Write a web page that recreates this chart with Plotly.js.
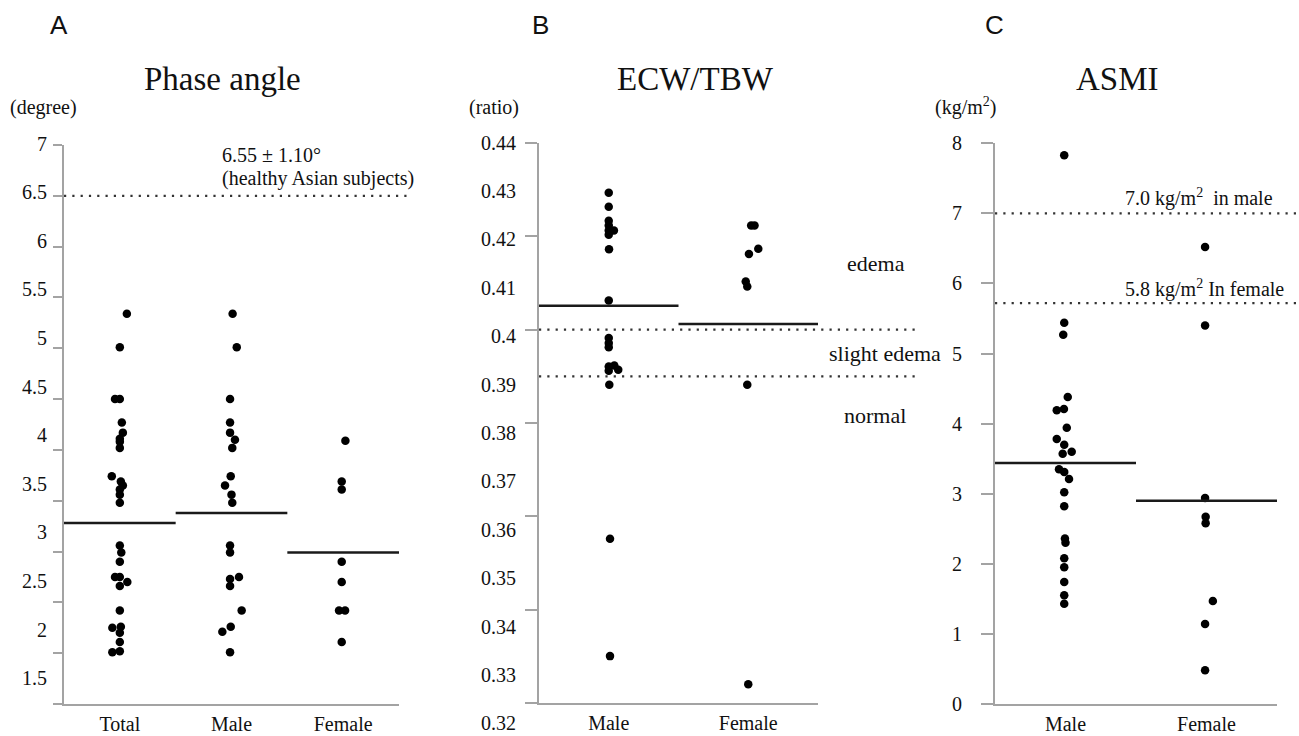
<!DOCTYPE html>
<html>
<head>
<meta charset="utf-8">
<script src="https://cdn.plot.ly/plotly-3.0.1.min.js"></script>
<style>html,body{margin:0;padding:0;background:#fff;}#chart{width:1299px;height:736px;}</style>
</head>
<body>
<div id="chart"></div>
<script>
// ---------- DATA ----------
// Panel A: Phase angle (degree)
const catsA = ['Total', 'Male', 'Female'];
const paTotal = [5.34, 5.01, 4.50, 4.50, 4.27, 4.17, 4.11, 4.08, 4.02, 3.74, 3.69, 3.65, 3.61, 3.56, 3.48,
                 3.06, 2.99, 2.90, 2.75, 2.75, 2.70, 2.66, 2.42, 2.25, 2.26, 2.20, 2.11, 2.01, 2.02];
const paTotalJit = [0.063, 0, -0.043, 0, 0.018, 0.027, 0, 0, 0, -0.072, 0.009, 0.027, 0, 0, 0,
                    0, 0.013, 0, -0.043, 0, 0.067, 0, 0, -0.067, 0.009, 0, 0, -0.067, 0];
const paMale = [5.34, 5.01, 4.50, 4.27, 4.17, 4.10, 4.02, 3.74, 3.65, 3.56, 3.48,
                3.06, 2.99, 2.73, 2.75, 2.66, 2.42, 2.21, 2.26, 2.01];
const paMaleJit = [0.01, 0.047, -0.013, -0.013, -0.013, 0.031, 0.007, -0.007, -0.058, 0, 0.007,
                   -0.013, -0.013, -0.013, 0.067, -0.013, 0.091, -0.082, -0.007, -0.013];
const paFemale = [4.09, 3.69, 3.61, 2.90, 2.70, 2.42, 2.42, 2.11];
const paFemaleJit = [0.02, -0.013, -0.013, -0.013, -0.013, -0.037, 0.017, -0.013];
const paMeans = [3.28, 3.38, 2.99];
const paReference = 6.5;
const paTickLabels = [7, 6.5, 6, 5.5, 5, 4.5, 4, 3.5, 3, 2.5, 2, 1.5];

// Panel B: ECW/TBW (ratio)
const catsB = ['Male', 'Female'];
const ecwMale = [0.4293, 0.4263, 0.4233, 0.4223, 0.4212, 0.4212, 0.4203, 0.4172, 0.4062,
                 0.3982, 0.3971, 0.3962, 0.3921, 0.3923, 0.3914, 0.3912, 0.3882, 0.3552, 0.3301];
const ecwMaleJit = [0, 0, 0, 0, 0.037, 0, 0, 0.002, 0, 0, 0, 0, 0, 0.04, 0.068, 0, 0.004, 0.009, 0.009];
const ecwFemale = [0.4223, 0.4223, 0.4173, 0.4162, 0.4103, 0.4092, 0.3882, 0.3241];
const ecwFemaleJit = [0.021, 0.045, 0.072, 0.005, -0.018, -0.007, -0.007, 0];
const ecwMeans = [0.4051, 0.4012];
const ecwCutoffs = [0.400, 0.390];
const ecwTickLabels = [0.44, 0.43, 0.42, 0.41, 0.40, 0.39, 0.38, 0.37, 0.36, 0.35, 0.34, 0.33, 0.32];

// Panel C: ASMI (kg/m2)
const catsC = ['Male', 'Female'];
const asmiMale = [7.83, 5.44, 5.27, 4.38, 4.21, 4.19, 3.94, 3.78, 3.70, 3.60, 3.57, 3.35, 3.31, 3.21,
                  3.02, 2.82, 2.36, 2.30, 2.08, 1.95, 1.74, 1.55, 1.43];
const asmiMaleJit = [-0.009, -0.009, -0.016, 0.016, -0.011, -0.062, 0.009, -0.062, -0.009, 0.044, -0.02,
                     -0.046, -0.009, 0.025, -0.009, -0.009, -0.004, 0, -0.009, -0.009, -0.009, -0.009, -0.009];
const asmiFemale = [6.52, 5.40, 2.94, 2.67, 2.58, 1.47, 1.14, 0.48];
const asmiFemaleJit = [-0.01, -0.01, -0.01, -0.006, -0.006, 0.045, -0.01, -0.01];
const asmiMeans = [3.44, 2.90];
const asmiCutoffs = [7.0, 5.72];

// ---------- STYLE ----------
const W = 1299, H = 736;
const fx = p => p / W, fy = p => 1 - p / H;
const SERIF = 'Liberation Serif, Times New Roman, serif';
const SANS = 'Liberation Sans, Arial, sans-serif';
const AX = '#a3a3a3';
const INK = '#111111';

function dots(vals, jit, idx, xa, ya) {
  return {
    type: 'scatter', mode: 'markers', xaxis: xa, yaxis: ya,
    x: vals.map((v, i) => idx + jit[i]), y: vals,
    marker: {color: '#000', size: 8.5, line: {width: 0}},
    hoverinfo: 'skip', cliponaxis: false
  };
}
function meanLines(means, xa, ya) {
  return means.map((m, i) => ({
    type: 'scatter', mode: 'lines', xaxis: xa, yaxis: ya,
    x: [i - 0.5, i + 0.5], y: [m, m],
    line: {color: '#1a1a1a', width: 2.5}, hoverinfo: 'skip'
  }));
}

const traces = [
  dots(paTotal, paTotalJit, 0, 'x', 'y'),
  dots(paMale, paMaleJit, 1, 'x', 'y'),
  dots(paFemale, paFemaleJit, 2, 'x', 'y'),
  ...meanLines(paMeans, 'x', 'y'),
  dots(ecwMale, ecwMaleJit, 0, 'x2', 'y2'),
  dots(ecwFemale, ecwFemaleJit, 1, 'x2', 'y2'),
  ...meanLines(ecwMeans, 'x2', 'y2'),
  dots(asmiMale, asmiMaleJit, 0, 'x3', 'y3'),
  dots(asmiFemale, asmiFemaleJit, 1, 'x3', 'y3'),
  ...meanLines(asmiMeans, 'x3', 'y3'),
  // empty traces that carry the label-only axes
  {type: 'scatter', mode: 'markers', x: [], y: [], xaxis: 'x', yaxis: 'y4', hoverinfo: 'skip'},
  {type: 'scatter', mode: 'markers', x: [], y: [], xaxis: 'x2', yaxis: 'y5', hoverinfo: 'skip'}
];

const tf = {family: SERIF, size: 20, color: INK};
const baseX = {showline: true, linecolor: AX, linewidth: 2, ticks: '', showgrid: false, zeroline: false,
               tickfont: tf, fixedrange: true, ticklabelstandoff: 1};
const baseY = {showline: true, linecolor: AX, linewidth: 2, ticks: 'outside', tickwidth: 2, tickcolor: AX,
               showgrid: false, zeroline: false, fixedrange: true, tickfont: tf};
const labelY = {anchor: 'free', showline: false, ticks: '', showgrid: false, zeroline: false, fixedrange: true,
                tickmode: 'array', tickfont: tf};

const dotted = {color: '#333', width: 2.2, dash: '2.2px,6.1px'};
const shapes = [
  {type: 'line', xref: 'paper', yref: 'y', x0: fx(64), x1: fx(410), y0: paReference, y1: paReference, line: dotted},
  ...ecwCutoffs.map(c => ({type: 'line', xref: 'paper', yref: 'y2', x0: fx(539), x1: fx(917), y0: c, y1: c, line: dotted})),
  ...asmiCutoffs.map(c => ({type: 'line', xref: 'paper', yref: 'y3', x0: fx(995), x1: fx(1296), y0: c, y1: c, line: dotted}))
];

function txt(text, px, py, opts) {
  return Object.assign({text: text, xref: 'paper', yref: 'paper', x: fx(px), y: fy(py),
    xanchor: 'center', yanchor: 'middle', showarrow: false,
    font: {family: SERIF, size: 20, color: INK}}, opts || {});
}
const annotations = [
  txt('A', 59, 25, {font: {family: SANS, size: 26, color: INK}}),
  txt('B', 540, 25, {font: {family: SANS, size: 26, color: INK}}),
  txt('C', 994, 25, {font: {family: SANS, size: 26, color: INK}}),
  txt('Phase angle', 222, 79, {font: {family: SERIF, size: 33, color: INK}}),
  txt('ECW/TBW', 695, 79, {font: {family: SERIF, size: 33, color: INK}}),
  txt('ASMI', 1117, 79, {font: {family: SERIF, size: 33, color: INK}}),
  txt('(degree)', 44, 108),
  txt('(ratio)', 494, 108),
  txt('(kg/m<sup>2</sup>)', 966, 106),
  txt('6.55 ± 1.10°', 220, 155, {xanchor: 'left'}),
  txt('(healthy Asian subjects)', 220, 178, {xanchor: 'left'}),
  txt('edema', 876, 263, {font: {family: SERIF, size: 22, color: INK}}),
  txt('slight edema', 885, 353, {font: {family: SERIF, size: 22, color: INK}}),
  txt('normal', 875, 415, {font: {family: SERIF, size: 22, color: INK}}),
  txt('7.0 kg/m<sup>2</sup>  in male', 1123, 197, {xanchor: 'left'}),
  txt('5.8 kg/m<sup>2</sup> In female', 1123, 288, {xanchor: 'left'})
];

const layout = {
  width: W, height: H, margin: {l: 0, r: 0, t: 0, b: 0}, showlegend: false,
  paper_bgcolor: '#ffffff', plot_bgcolor: 'rgba(0,0,0,0)',
  font: {family: SERIF, size: 20, color: INK},
  xaxis: Object.assign({}, baseX, {domain: [fx(64), fx(399)], range: [-0.5, 2.5], tickvals: [0, 1, 2], ticktext: catsA, anchor: 'y'}),
  yaxis: Object.assign({}, baseY, {domain: [fy(704), fy(145)], range: [1.5, 7], tick0: 1.5, dtick: 0.5, ticklen: 9, showticklabels: false, anchor: 'x'}),
  yaxis4: Object.assign({}, labelY, {domain: [fy(690), fy(140)], range: [1.3797, 7.036], position: fx(47),
           tickvals: paTickLabels, ticktext: paTickLabels.map(String)}),
  xaxis2: Object.assign({}, baseX, {domain: [fx(539), fx(818)], range: [-0.5, 1.5], tickvals: [0, 1], ticktext: catsB, anchor: 'y2'}),
  yaxis2: Object.assign({}, baseY, {domain: [fy(703.3), fy(142.7)], range: [0.32, 0.44], tick0: 0.32, dtick: 0.02, ticklen: 12, showticklabels: false, anchor: 'x2'}),
  yaxis5: Object.assign({}, labelY, {domain: [fy(727), fy(139)], range: [0.31924, 0.44076], position: fx(516),
           tickvals: ecwTickLabels, ticktext: ecwTickLabels.map(v => String(+v.toFixed(2)))}),
  xaxis3: Object.assign({}, baseX, {domain: [fx(995), fx(1277)], range: [-0.5, 1.5], tickvals: [0, 1], ticktext: catsC, anchor: 'y3'}),
  yaxis3: Object.assign({}, baseY, {domain: [fy(704), fy(143.3)], range: [0, 8], tick0: 0, dtick: 1, ticklen: 12, ticklabelstandoff: 15, anchor: 'x3'}),
  shapes: shapes,
  annotations: annotations
};

Plotly.newPlot('chart', traces, layout, {staticPlot: true, displayModeBar: false});
</script>
</body>
</html>
